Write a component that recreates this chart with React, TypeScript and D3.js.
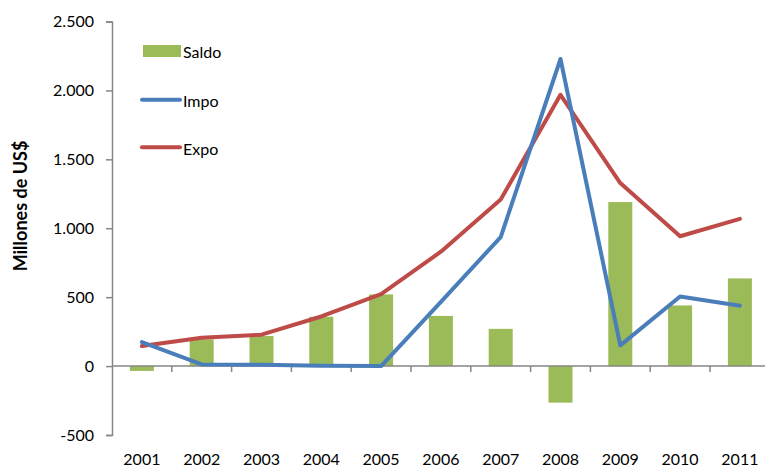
import React, { useRef, useEffect } from 'react';
import * as d3 from 'd3';

// data
const years = ['2001', '2002', '2003', '2004', '2005', '2006', '2007', '2008', '2009', '2010', '2011'];
const saldo = [-35, 194, 218, 358, 520, 364, 270, -265, 1190, 440, 636];
const impo = [174, 12, 10, 2, 0, 466, 936, 2228, 150, 505, 438];
const expo = [145, 206, 228, 360, 522, 830, 1208, 1968, 1328, 942, 1068];
const yTicks = [-500, 0, 500, 1000, 1500, 2000, 2500];

const GREEN = '#9BBB59';
const BLUE = '#4A7EBB';
const RED = '#BE4B48';
const AXIS = '#868686';
const FONT = 'Lato, "Open Sans", sans-serif';

export default function App() {
  const svgRef = useRef<SVGSVGElement>(null);

  useEffect(() => {
    if (!svgRef.current) return;
    const width = 765;
    const height = 468;
    const svg = d3.select(svgRef.current).attr('width', width).attr('height', height);
    svg.selectAll('*').remove();

    const left = 112;
    const step = 59.8;

    //scales
    const xScale = d3.scaleBand<string>()
      .domain(years)
      .range([left, left + step * years.length])
      .padding(0);
    const cx = (y: string) => (xScale(y) as number) + xScale.bandwidth() / 2;
    const yScale = d3.scaleLinear().domain([-500, 2500]).range([435, 21.5]);
    const barW = 24;

    // 2.500 style, plain hyphen for negatives
    const fmt = (v: number) => d3.format(',')(v).replace(/,/g, '.').replace('\u2212', '-');

    //y axis
    const yAxis = d3.axisLeft(yScale)
      .tickValues(yTicks)
      .tickSize(6)
      .tickPadding(12)
      .tickFormat(d => fmt(d as number));
    const yg = svg.append('g').attr('transform', `translate(${left},0)`).call(yAxis);
    yg.select('.domain').attr('stroke', AXIS).attr('stroke-width', 1.5);
    yg.selectAll('.tick line').attr('stroke', AXIS).attr('stroke-width', 1.5);
    yg.selectAll('.tick text')
      .attr('fill', '#000')
      .attr('font-family', FONT)
      .attr('font-size', '16px');

    //bars
    svg.append('g')
      .selectAll('rect')
      .data(saldo)
      .join('rect')
      .attr('x', (_, i) => cx(years[i]) - barW / 2)
      .attr('width', barW)
      .attr('y', d => yScale(Math.max(0, d)))
      .attr('height', d => Math.abs(yScale(d) - yScale(0)))
      .attr('fill', GREEN);

    //x axis at zero
    const y0 = yScale(0);
    svg.append('line')
      .attr('x1', left).attr('x2', width)
      .attr('y1', y0).attr('y2', y0)
      .attr('stroke', AXIS).attr('stroke-width', 1.5);
    const boundaries = years.slice(1).map(y => xScale(y) as number);
    svg.append('g')
      .selectAll('line')
      .data(boundaries)
      .join('line')
      .attr('x1', d => d).attr('x2', d => d)
      .attr('y1', y0).attr('y2', y0 + 6)
      .attr('stroke', AXIS).attr('stroke-width', 1.5);

    svg.append('g')
      .selectAll('text')
      .data(years)
      .join('text')
      .attr('x', d => cx(d))
      .attr('y', 465)
      .attr('text-anchor', 'middle')
      .attr('font-family', FONT)
      .attr('font-size', '16px')
      .attr('fill', '#000')
      .text(d => d);

    //lines
    const line = d3.line<number>()
      .x((_, i) => cx(years[i]))
      .y(d => yScale(d));

    svg.append('path')
      .datum(expo)
      .attr('fill', 'none')
      .attr('stroke', RED)
      .attr('stroke-width', 4)
      .attr('stroke-linejoin', 'round')
      .attr('stroke-linecap', 'round')
      .attr('d', line);

    svg.append('path')
      .datum(impo)
      .attr('fill', 'none')
      .attr('stroke', BLUE)
      .attr('stroke-width', 4)
      .attr('stroke-linejoin', 'round')
      .attr('stroke-linecap', 'round')
      .attr('d', line);

    //y title
    svg.append('text')
      .attr('transform', 'translate(27,206) rotate(-90)')
      .attr('text-anchor', 'middle')
      .attr('font-family', FONT)
      .attr('font-weight', 'bold')
      .attr('font-size', '18px')
      .attr('fill', '#000')
      .text('Millones de US$');

    //legend
    const lg = svg.append('g');
    lg.append('rect').attr('x', 143).attr('y', 45).attr('width', 38).attr('height', 12).attr('fill', GREEN);
    lg.append('line').attr('x1', 142).attr('x2', 180).attr('y1', 99.7).attr('y2', 99.7)
      .attr('stroke', BLUE).attr('stroke-width', 4).attr('stroke-linecap', 'round');
    lg.append('line').attr('x1', 142).attr('x2', 180).attr('y1', 147.3).attr('y2', 147.3)
      .attr('stroke', RED).attr('stroke-width', 4).attr('stroke-linecap', 'round');
    const labels = [['Saldo', 58], ['Impo', 107], ['Expo', 155]] as const;
    labels.forEach(([t, y]) => {
      lg.append('text')
        .attr('x', 183).attr('y', y)
        .attr('font-family', FONT)
        .attr('font-size', '16px')
        .attr('fill', '#000')
        .text(t);
    });
  }, []);

  return (
    <div style={{ position: 'fixed', left: 0, top: 0 }}>
      <svg ref={svgRef} style={{ display: 'block', background: '#fff' }} />
    </div>
  );
}
